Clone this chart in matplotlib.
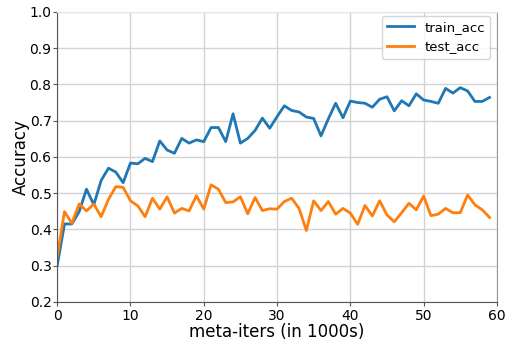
import matplotlib
matplotlib.use('Agg')
import matplotlib.pyplot as plt

meta_iters = list(range(60))

train_acc = [0.300, 0.415, 0.415, 0.449, 0.511, 0.468, 0.535, 0.569, 0.558, 0.529,
             0.583, 0.581, 0.596, 0.587, 0.644, 0.619, 0.610, 0.651, 0.638, 0.647,
             0.642, 0.681, 0.681, 0.642, 0.719, 0.638, 0.651, 0.673, 0.707, 0.679,
             0.711, 0.741, 0.728, 0.724, 0.710, 0.706, 0.658, 0.705, 0.748, 0.708,
             0.754, 0.750, 0.748, 0.737, 0.759, 0.766, 0.727, 0.755, 0.741, 0.774,
             0.757, 0.753, 0.748, 0.789, 0.776, 0.791, 0.782, 0.753, 0.753, 0.764]

test_acc = [0.325, 0.449, 0.417, 0.470, 0.451, 0.470, 0.435, 0.483, 0.518, 0.516,
            0.479, 0.465, 0.435, 0.486, 0.456, 0.490, 0.445, 0.458, 0.451, 0.493,
            0.456, 0.523, 0.511, 0.474, 0.476, 0.490, 0.443, 0.488, 0.452, 0.457,
            0.456, 0.477, 0.486, 0.458, 0.397, 0.479, 0.452, 0.477, 0.442, 0.458,
            0.445, 0.414, 0.466, 0.437, 0.479, 0.440, 0.421, 0.446, 0.472, 0.454,
            0.492, 0.438, 0.442, 0.458, 0.446, 0.446, 0.495, 0.468, 0.454, 0.433]

fig = plt.figure(figsize=(5.06, 3.40), dpi=100)
ax = fig.add_axes([0.113, 0.112, 0.869, 0.853])

ax.plot(meta_iters, train_acc, color='#1f77b4', lw=2, label='train_acc')
ax.plot(meta_iters, test_acc, color='#ff7f0e', lw=2, label='test_acc')

ax.set_xlim(0, 60)
ax.set_ylim(0.2, 1.0)
ax.set_xticks(range(0, 61, 10))
ax.set_yticks([0.2, 0.3, 0.4, 0.5, 0.6, 0.7, 0.8, 0.9, 1.0])
ax.grid(True, color='#d3d3d3', lw=1)
ax.set_axisbelow(True)

# dark left/bottom spines, faint right/top
for side in ['left', 'bottom']:
    ax.spines[side].set_color('#555555')
ax.spines['right'].set_color('#999999')
ax.spines['top'].set_color('#e6e6e6')
ax.tick_params(labelsize=10, length=3, color='#555555', pad=1)
ax.tick_params(axis='x', pad=2)

ax.set_xlabel('meta-iters (in 1000s)', fontsize=12, labelpad=0)
ax.set_ylabel('Accuracy', fontsize=12, labelpad=0)

ax.legend(loc='upper right', fontsize=9.5, framealpha=0.8,
          bbox_to_anchor=(1.0, 1.01))

fig.savefig('out.png', dpi=100)
